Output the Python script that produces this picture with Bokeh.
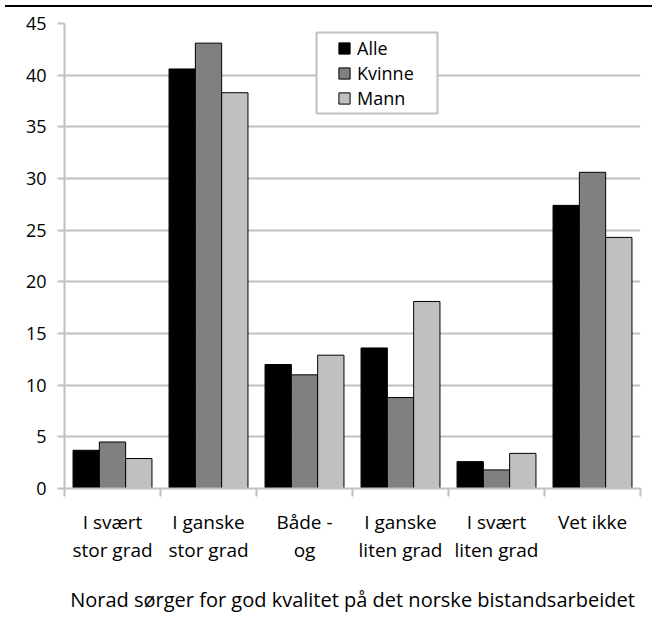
from bokeh.plotting import figure
from bokeh.models import Range1d, FixedTicker, Legend, LegendItem, ColumnDataSource, BoxAnnotation, Div
from bokeh.layouts import column
from bokeh.embed import file_html
from bokeh.resources import INLINE

categories = ["I svært\nstor grad", "I ganske\nstor grad", "Både -\nog",
              "I ganske\nliten grad", "I svært\nliten grad", "Vet ikke"]
alle = [3.7, 40.6, 12.0, 13.6, 2.6, 27.4]
kvinne = [4.5, 43.1, 11.0, 8.8, 1.8, 30.6]
mann = [2.9, 38.3, 12.9, 18.1, 3.4, 24.3]
series = [("Alle", alle, "#000000"), ("Kvinne", kvinne, "#808080"), ("Mann", mann, "#c0c0c0")]
y_ticks = [0, 5, 10, 15, 20, 25, 30, 35, 40, 45]
x_title = "Norad sørger for god kvalitet på det norske bistandsarbeidet"

FONT = "Open Sans"
GRID = "#c0c0c0"
TOP = 8  # height taken by the black rule above the chart

rule = Div(text="", width=647, height=2, margin=(5, 0, 1, 5),
           styles={"background-color": "black"})

n = len(categories)
p = figure(width=652, height=625 - TOP, x_range=Range1d(0, n), y_range=Range1d(0, 45),
           toolbar_location=None, output_backend="svg",
           min_border_left=64, min_border_right=12, min_border_top=23 - TOP, min_border_bottom=137,
           outline_line_color=None, background_fill_color="white", border_fill_color="white")

# legend frame
p.add_layout(BoxAnnotation(left=316, right=437, top=32 - TOP, bottom=113 - TOP,
                           left_units="canvas", right_units="canvas",
                           top_units="canvas", bottom_units="canvas",
                           fill_color="white", fill_alpha=1.0,
                           line_color=GRID, line_width=2, line_alpha=1.0))

bw = 0.274
centers = [i + 0.5 for i in range(n)]
items = []
for k, (name, vals, col) in enumerate(series):
    src = ColumnDataSource(dict(x=[c + (k - 1) * bw for c in centers], top=vals))
    r = p.vbar(x="x", top="top", width=bw, bottom=0, source=src,
               fill_color=col, line_color="black", line_width=1)
    items.append(LegendItem(label=name, renderers=[r]))

legend = Legend(items=items, location=(273, 378), padding=0, spacing=1,
                label_text_font=FONT, label_text_font_size="18px", label_text_color="black",
                glyph_width=14, glyph_height=14, label_standoff=6, label_height=20,
                border_line_color=None, background_fill_alpha=0.0, margin=0)
p.add_layout(legend)

# grid
p.xgrid.visible = False
p.ygrid.ticker = FixedTicker(ticks=y_ticks[1:])
p.ygrid.grid_line_color = GRID
p.ygrid.grid_line_width = 2

# y axis
ya = p.yaxis[0]
ya.ticker = FixedTicker(ticks=y_ticks)
ya.axis_line_color = GRID
ya.axis_line_width = 2
ya.major_tick_line_color = GRID
ya.major_tick_line_width = 2
ya.major_tick_in = 0
ya.major_tick_out = 7
ya.minor_tick_line_color = None
ya.major_label_text_font = FONT
ya.major_label_text_font_size = "18px"
ya.major_label_text_color = "black"
ya.major_label_standoff = 11

# x axis
xa = p.xaxis[0]
xa.ticker = FixedTicker(ticks=centers, minor_ticks=list(range(n + 1)))
xa.major_label_overrides = {c: lab for c, lab in zip(centers, categories)}
xa.axis_line_color = GRID
xa.axis_line_width = 2
xa.major_tick_line_color = None
xa.major_tick_in = 0
xa.major_tick_out = 0
xa.minor_tick_line_color = GRID
xa.minor_tick_line_width = 2
xa.minor_tick_in = 0
xa.minor_tick_out = 8
xa.major_label_text_font = FONT
xa.major_label_text_font_size = "19px"
xa.major_label_text_color = "black"
xa.major_label_text_line_height = 1.08
xa.major_label_standoff = 12
xa.axis_label = x_title
xa.axis_label_text_font = FONT
xa.axis_label_text_font_size = "20px"
xa.axis_label_text_font_style = "normal"
xa.axis_label_text_color = "black"
xa.axis_label_standoff = 20

open("out.html", "w").write(file_html(column(rule, p, spacing=0), INLINE))
